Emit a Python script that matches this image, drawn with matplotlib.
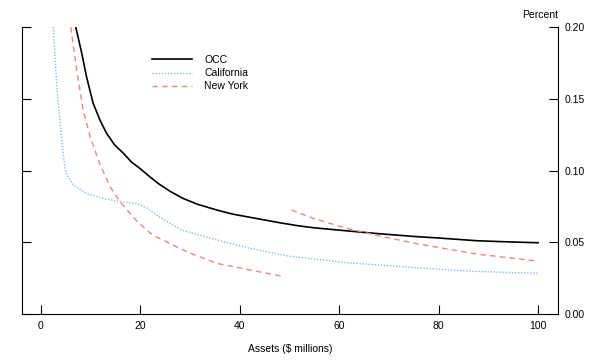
import numpy as np
import matplotlib.pyplot as plt

plt.rcParams['font.family'] = ['Liberation Sans', 'DejaVu Sans']

# values
occ_x = [7.0, 8.2, 9.2, 10.5, 11.9, 13.2, 14.8, 16.6, 18.2, 19.9, 21.9, 23.6, 26.0, 28.6, 31.5,
         35.4, 38.5, 42.1, 48.1, 51.8, 55.0, 61.5, 68.0, 75.0, 80.0, 87.7, 94.0, 100.0]
occ_y = [0.200, 0.182, 0.165, 0.147, 0.135, 0.126, 0.118, 0.112, 0.106, 0.1015, 0.0957, 0.0910, 0.0855, 0.0806, 0.0765,
         0.0725, 0.0697, 0.0674, 0.0636, 0.0615, 0.0601, 0.0580, 0.0560, 0.0541, 0.0530, 0.0511, 0.0503, 0.0497]

cal_x = [2.5, 3.2, 4.0, 4.8, 5.2, 6.5, 9.2, 12.5, 15.9, 19.3, 21.3, 23.9, 28.3, 35.4, 42.1, 50.0, 61.5, 75.0, 87.7, 100.0]
cal_y = [0.200, 0.158, 0.128, 0.102, 0.097, 0.090, 0.084, 0.0806, 0.0783, 0.0771, 0.0740, 0.0675, 0.0585, 0.0516, 0.0458, 0.0403, 0.0358, 0.0324, 0.0297, 0.0284]

ny_x = [6.0, 7.2, 8.5, 9.9, 11.8, 13.9, 15.9, 19.5, 22.5, 26.6, 30.0, 35.4, 42.1, 49.0,
        np.nan, 50.4, 54.8, 61.5, 68.2, 75.2, 87.7, 100.0]
ny_y = [0.200, 0.170, 0.142, 0.1236, 0.105, 0.0887, 0.0783, 0.064, 0.055, 0.048, 0.0425, 0.0353, 0.0307, 0.026,
        np.nan, 0.0725, 0.0667, 0.0597, 0.0544, 0.0493, 0.0418, 0.0369]

xticks = [0, 20, 40, 60, 80, 100]
yticks = [0.00, 0.05, 0.10, 0.15, 0.20]

fig = plt.figure(figsize=(6, 3.61), dpi=100)
ax = fig.add_axes([0.0367, 0.130, 0.8933, 0.795])

ax.plot(occ_x, occ_y, color='black', lw=1.2, label='OCC')
ax.plot(cal_x, cal_y, color='#8fb8e8', lw=1.0, ls=(0, (1, 1.2)), label='California')
ax.plot(ny_x, ny_y, color='#e88888', lw=1.0, ls=(0, (4, 3)), label='New York')

ax.set_xlim(-3.8, 104)
ax.set_ylim(0, 0.2)
ax.set_xticks(xticks)
ax.set_xticklabels([str(v) for v in xticks])
ax.set_yticks(yticks)
ax.set_yticklabels(['%.2f' % v for v in yticks])

ax.spines['top'].set_visible(False)
ax.tick_params(axis='x', direction='in', length=6.5, width=0.8, labelsize=7.5, pad=5)
ax.tick_params(axis='y', direction='in', length=6.5, width=0.8, labelsize=7.5,
               left=True, right=True, labelleft=False, labelright=True, pad=5)

ax.text(1.0, 1.025, 'Percent', transform=ax.transAxes, ha='right', va='bottom', fontsize=7.5)
ax.set_xlabel('Assets ($ millions)', fontsize=7.5, labelpad=9)

ax.legend(loc='upper left', bbox_to_anchor=(0.225, 0.935), frameon=False, fontsize=7.5,
          handlelength=3.8, handletextpad=1.2, labelspacing=0.3)

fig.savefig('out.png', dpi=100)
